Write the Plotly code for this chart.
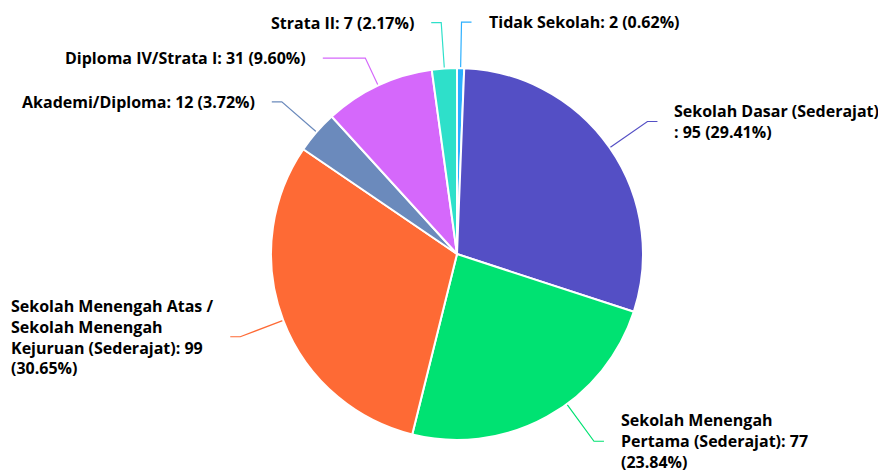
import math
import plotly.graph_objects as go

# ---- data ----
categories = [
    "Tidak Sekolah",
    "Sekolah Dasar (Sederajat)",
    "Sekolah Menengah Pertama (Sederajat)",
    "Sekolah Menengah Atas / Sekolah Menengah Kejuruan (Sederajat)",
    "Akademi/Diploma",
    "Diploma IV/Strata I",
    "Strata II",
]
values = [2, 95, 77, 99, 12, 31, 7]
# label templates (line breaks as in the reference)
label_templates = [
    "Tidak Sekolah: {v} ({p})",
    "Sekolah Dasar (Sederajat)<br>: {v} ({p})",
    "Sekolah Menengah<br>Pertama (Sederajat): {v}<br>({p})",
    "Sekolah Menengah Atas /<br>Sekolah Menengah<br>Kejuruan (Sederajat): {v}<br>({p})",
    "Akademi/Diploma: {v} ({p})",
    "Diploma IV/Strata I: {v} ({p})",
    "Strata II: {v} ({p})",
]
colors = ["#2caffe", "#544fc5", "#00e272", "#fe6a35", "#6b8abc", "#d568fb", "#2ee0ca"]

# ---- layout geometry (pixels) ----
W, H = 878, 472
CX, CY, R = 457, 254, 186
DIST = 46        # label distance from pie edge
LH = 20.5        # line height of labels
GAP = 15         # min vertical gap between labels
HOFF = 10        # horizontal connector segment
TOFF = 15        # connector end -> text
FONT_SIZE = 16

def fx(x):
    return x / W

def fy(y):
    return 1 - y / H

total = sum(values)
cum = 0
items = []
for i, v in enumerate(values):
    start = cum / total * 2 * math.pi
    cum += v
    end = cum / total * 2 * math.pi
    mid = (start + end) / 2
    pct = v / total * 100
    text = label_templates[i].format(v=v, p=f"{pct:.2f}%")
    nlines = text.count("<br>") + 1
    h = nlines * LH
    ny = CY - (R + DIST) * math.cos(mid)
    items.append(dict(i=i, start=start, end=end, mid=mid, text=text, h=h,
                      y=ny, ny=ny, right=math.sin(mid) >= 0, clamped=False))

# distribute labels per side
for side in (True, False):
    grp = sorted([it for it in items if it["right"] == side], key=lambda d: d["ny"])
    prev = None
    for it in grp:
        if prev is not None:
            it["y"] = max(it["y"], prev["y"] + (prev["h"] + it["h"]) / 2 + GAP)
        prev = it
    for it in grp:
        lo, hi = it["h"] / 2, H - it["h"] / 2
        if it["y"] > hi:
            it["y"] = hi
            it["clamped"] = True
        if it["y"] < lo:
            it["y"] = lo
            it["clamped"] = True

shapes = []
annotations = []
for it in items:
    y = it["y"]
    sgn = 1 if it["right"] else -1
    dy = y - CY
    rx = math.sqrt(max((R + DIST) ** 2 - dy ** 2, 0))
    xc = CX + sgn * rx
    th = it["mid"]
    if it["clamped"]:
        # touch the slice at the angle pointing to the label position
        ang = math.atan2(xc - CX, -(y - CY))
        if ang < 0:
            ang += 2 * math.pi
        ang = min(max(ang, it["start"]), it["end"])
        p0 = (CX + R * math.sin(ang), CY - R * math.cos(ang))
        p1 = (xc, y)
    else:
        p0 = (CX + R * math.sin(th), CY - R * math.cos(th))
        dirx, diry = math.sin(th), -math.cos(th)
        t = (y - p0[1]) / diry if abs(diry) > 1e-6 else DIST
        t = min(max(t, 8), DIST + 5)
        p1 = (p0[0] + t * dirx, p0[1] + t * diry)
    if it["right"]:
        x2 = max(xc + HOFF, p1[0] + HOFF)
    else:
        x2 = min(xc - HOFF, p1[0] - HOFF)
    p2 = (x2, y)
    path = "M {},{} L {},{} L {},{}".format(
        fx(p0[0]), fy(p0[1]), fx(p1[0]), fy(p1[1]), fx(p2[0]), fy(p2[1]))
    shapes.append(dict(type="path", path=path, xref="paper", yref="paper",
                       line=dict(color=colors[it["i"]], width=1.2), layer="below"))
    annotations.append(dict(
        x=fx(x2 + sgn * TOFF), y=fy(y), xref="paper", yref="paper",
        text="<b>" + it["text"] + "</b>", showarrow=False,
        xanchor="left" if it["right"] else "right", yanchor="middle",
        align="left",
        font=dict(family="Open Sans, Noto Sans, sans-serif", size=FONT_SIZE, color="#000000"),
    ))

fig = go.Figure(go.Pie(
    labels=categories,
    values=values,
    sort=False,
    direction="clockwise",
    rotation=0,
    marker=dict(colors=colors, line=dict(color="#ffffff", width=2)),
    textinfo="none",
    textposition="none",
    hoverinfo="label+value+percent",
    domain=dict(x=[fx(CX - R), fx(CX + R)], y=[fy(CY + R), fy(CY - R)]),
    showlegend=False,
))

fig.update_layout(
    width=W, height=H, autosize=False,
    margin=dict(l=0, r=0, t=0, b=0),
    paper_bgcolor="#ffffff",
    plot_bgcolor="#ffffff",
    shapes=shapes,
    annotations=annotations,
)

fig.write_html(
    "out.html",
    config={"displayModeBar": False},
    post_script="document.body.style.margin='0';document.body.style.overflow='hidden';",
)
